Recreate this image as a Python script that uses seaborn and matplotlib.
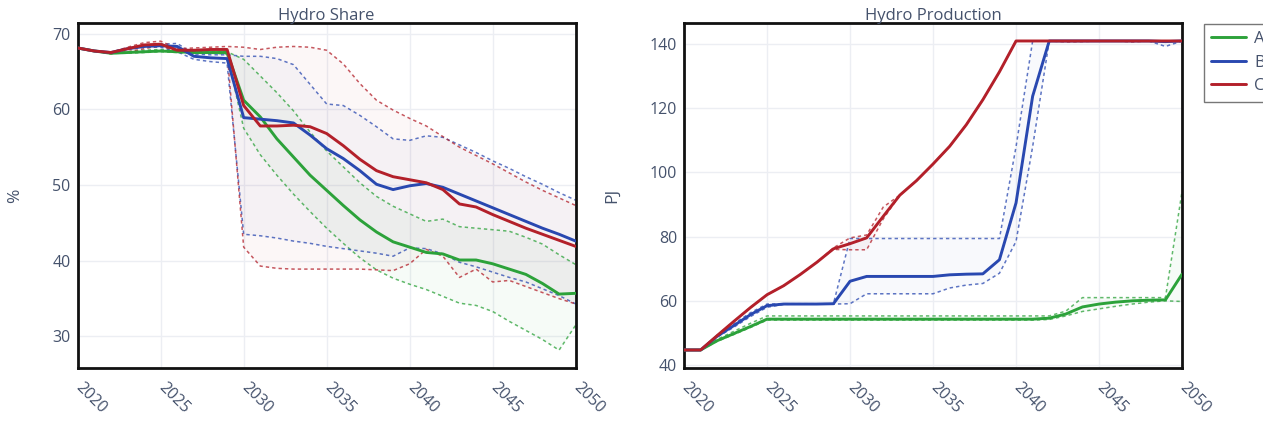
import numpy as np
import pandas as pd
import matplotlib
matplotlib.use("Agg")
import matplotlib.pyplot as plt
import seaborn as sns

years = list(range(2020, 2051))
scenarios = ["A", "B", "C"]
colors = {"A": "#2ca23a", "B": "#2948b0", "C": "#b3202a"}

# ---- Hydro Share (%) ----
share_A = [68.1, 67.7, 67.4, 67.5, 67.6, 67.7, 67.6, 67.5, 67.5, 67.5, 61.2, 59.0, 56.1, 53.7, 51.3, 49.3,
           47.3, 45.4, 43.8, 42.5, 41.8, 41.1, 40.9, 40.1, 40.1, 39.6, 38.9, 38.2, 37.0, 35.6, 35.7]
share_A_hi = [68.1, 67.7, 67.4, 67.6, 67.8, 67.9, 67.7, 67.6, 67.6, 67.6, 66.6, 64.4, 62.2, 59.8, 57.0, 54.5,
              52.4, 50.3, 48.5, 47.2, 46.2, 45.2, 45.5, 44.5, 44.3, 44.1, 43.9, 43.1, 42.2, 40.8, 39.5]
share_A_lo = [68.1, 67.7, 67.4, 67.4, 67.5, 67.6, 67.5, 67.4, 67.4, 67.3, 57.5, 54.0, 51.3, 48.8, 46.5, 44.3,
              42.3, 40.4, 38.8, 37.7, 36.9, 36.2, 35.3, 34.4, 34.1, 33.3, 32.0, 30.8, 29.6, 28.2, 31.5]
share_B = [68.1, 67.7, 67.5, 68.0, 68.3, 68.4, 68.3, 67.0, 66.8, 66.7, 58.9, 58.7, 58.5, 58.2, 56.6, 54.8,
           53.5, 51.9, 50.1, 49.4, 49.9, 50.2, 49.7, 48.8, 47.9, 47.0, 46.1, 45.2, 44.3, 43.5, 42.6]
share_B_hi = [68.1, 67.7, 67.5, 68.1, 68.4, 68.6, 68.7, 67.3, 67.2, 67.2, 67.0, 67.0, 66.7, 65.9, 63.3, 60.7,
              60.5, 59.2, 57.7, 56.1, 55.9, 56.5, 56.3, 55.3, 54.3, 53.2, 52.2, 51.1, 50.1, 49.0, 48.0]
share_B_lo = [68.1, 67.7, 67.5, 67.9, 68.2, 68.2, 67.6, 66.6, 66.3, 66.1, 43.5, 43.3, 43.0, 42.6, 42.3, 41.9,
              41.6, 41.3, 41.0, 40.6, 41.7, 41.6, 40.9, 39.8, 39.2, 38.5, 37.8, 37.2, 36.3, 35.4, 34.3]
share_C = [68.1, 67.7, 67.5, 68.0, 68.5, 68.6, 67.8, 67.8, 67.9, 67.9, 60.5, 57.8, 57.8, 57.9, 57.7, 56.8,
           55.2, 53.4, 51.9, 51.1, 50.7, 50.3, 49.4, 47.5, 47.1, 46.1, 45.2, 44.3, 43.5, 42.7, 41.9]
share_C_hi = [68.1, 67.7, 67.5, 68.2, 68.8, 69.0, 68.0, 68.1, 68.2, 68.3, 68.2, 67.9, 68.2, 68.3, 68.2, 67.8,
              66.0, 63.4, 61.2, 59.9, 58.8, 57.8, 56.4, 55.0, 53.9, 52.8, 51.6, 50.4, 49.3, 48.3, 47.3]
share_C_lo = [68.1, 67.7, 67.3, 67.6, 68.0, 68.4, 67.6, 67.5, 67.5, 67.6, 41.8, 39.3, 39.0, 38.9, 38.9, 38.9,
              38.9, 38.9, 38.8, 38.7, 39.6, 41.5, 40.6, 37.8, 38.9, 37.2, 37.4, 36.6, 35.8, 35.0, 34.3]

# ---- Hydro Production (PJ) ----
prod_A = [44.7, 44.7, 47.6, 49.8, 52.0, 54.3] + [54.3] * 16 + [54.6, 55.9, 58.1, 59.0, 59.6, 60.0, 60.2, 60.3, 68.3]
prod_A_hi = [44.7, 44.7, 48.0, 50.5, 53.0, 55.3] + [55.3] * 16 + [55.3, 56.8, 61.0, 61.0, 61.0, 61.0, 61.0, 61.0, 94.0]
prod_A_lo = [44.7, 44.7, 47.4, 49.5, 51.7, 54.0] + [54.0] * 16 + [54.2, 55.3, 56.7, 57.5, 58.3, 59.0, 59.6, 60.0, 59.8]
prod_B = [44.7, 44.7, 49.0, 52.3, 55.7, 58.5, 59.0, 59.0, 59.0, 59.1, 66.1, 67.6, 67.6, 67.6, 67.6, 67.6,
          68.1, 68.3, 68.4, 72.8, 90.5, 123.7, 140.9, 140.9, 140.9, 140.9, 140.9, 140.9, 140.9, 140.7, 140.9]
prod_B_hi = [44.7, 44.7, 49.3, 52.8, 56.3, 59.0, 59.1, 59.1, 59.1, 59.1] + [79.4] * 10 + \
            [108.0, 140.9, 140.9, 140.9, 140.9, 140.9, 140.9, 140.9, 140.9, 140.9, 140.9]
prod_B_lo = [44.7, 44.7, 48.7, 51.8, 55.1, 58.0, 58.9, 59.0, 59.0, 59.0, 59.1, 62.2, 62.2, 62.2, 62.2, 62.2,
             64.0, 64.9, 65.4, 68.6, 78.5, 108.0, 140.9, 140.9, 140.9, 140.9, 140.9, 140.9, 140.9, 139.2, 140.9]
prod_C = [44.7, 44.7, 49.2, 53.6, 57.9, 61.9, 64.7, 68.2, 72.0, 76.2, 77.8, 79.6, 86.3, 92.9, 97.4, 102.6,
          108.1, 114.8, 122.6, 131.3, 140.9] + [140.9] * 10
prod_C_hi = [44.7, 44.7, 49.2, 53.6, 57.9, 61.9, 64.7, 68.2, 72.0, 76.5, 79.6, 80.5, 89.2, 92.9, 97.4, 102.6,
             108.1, 114.8, 122.6, 131.3, 140.9] + [140.9] * 10
prod_C_lo = [44.7, 44.7, 49.2, 53.6, 57.9, 61.9, 64.7, 68.2, 72.0, 76.0, 75.9, 75.9, 85.5, 92.9, 97.4, 102.6,
             108.1, 114.8, 122.6, 131.3, 140.9, 140.9, 140.9, 140.6, 140.7, 140.9, 140.9, 140.6, 140.9, 140.9, 140.9]

share = {"A": (share_A, share_A_lo, share_A_hi),
         "B": (share_B, share_B_lo, share_B_hi),
         "C": (share_C, share_C_lo, share_C_hi)}
prod = {"A": (prod_A, prod_A_lo, prod_A_hi),
        "B": (prod_B, prod_B_lo, prod_B_hi),
        "C": (prod_C, prod_C_lo, prod_C_hi)}

def long_df(d):
    rows = []
    for s in scenarios:
        for y, v in zip(years, d[s][0]):
            rows.append({"year": y, "value": v, "scenario": s})
    return pd.DataFrame(rows)

sns.set_style("white")
plt.rcParams["font.family"] = ["Open Sans", "DejaVu Sans"]
txt = "#45526c"
fill_alpha = {"A": 0.04, "B": 0.03, "C": 0.035}

fig = plt.figure(figsize=(12.63, 4.21), dpi=100)
ax1 = fig.add_axes([0.0615, 0.1252, 0.3943, 0.8202])
ax2 = fig.add_axes([0.5416, 0.1252, 0.3943, 0.8202])

def draw(ax, d, title, ylabel, ylim, yticks, legend):
    for s in scenarios:
        med, lo, hi = d[s]
        ax.fill_between(years, lo, hi, color=colors[s], alpha=fill_alpha[s], lw=0, zorder=1)
        for b in (lo, hi):
            ax.plot(years, b, color=colors[s], alpha=0.75, lw=1.1, ls=(0, (2.2, 2.0)), zorder=2)
    sns.lineplot(data=long_df(d), x="year", y="value", hue="scenario", hue_order=scenarios,
                 palette=colors, lw=2.1, ax=ax, legend=legend, zorder=3)
    ax.set_xlim(2020, 2050)
    ax.set_ylim(*ylim)
    ax.set_yticks(yticks)
    ax.set_xticks(range(2020, 2051, 5))
    ax.set_xticklabels([str(y) for y in range(2020, 2051, 5)], rotation=-45, ha="left",
                       va="center", rotation_mode="anchor")
    ax.tick_params(axis="both", length=0, labelsize=11.5, labelcolor=txt)
    ax.tick_params(axis="x", pad=12)
    ax.tick_params(axis="y", pad=5)
    ax.grid(True, color="#eceef3", lw=1)
    ax.set_axisbelow(True)
    for sp in ax.spines.values():
        sp.set_visible(True)
        sp.set_color("#111111")
        sp.set_linewidth(2)
    ax.set_title(title, fontsize=12, color=txt, pad=2)
    ax.set_xlabel("")
    ax.set_ylabel(ylabel, fontsize=12.5, color=txt)

draw(ax1, share, "Hydro Share", "%", (25.8, 71.4), [30, 40, 50, 60, 70], False)
draw(ax2, prod, "Hydro Production", "PJ", (39.0, 146.5), [40, 60, 80, 100, 120, 140], True)
ax1.yaxis.set_label_coords(-0.11, 0.5)
ax2.yaxis.set_label_coords(-0.128, 0.5)

sns.move_legend(ax2, "upper left", bbox_to_anchor=(1.044, 0.998), title=None, frameon=True,
                fontsize=12, handlelength=2.1, handletextpad=0.45, labelspacing=0.45,
                borderpad=0.45, borderaxespad=0)
leg = ax2.get_legend()
leg.get_frame().set_edgecolor("#555555")
leg.get_frame().set_linewidth(1.0)
leg.get_frame().set_boxstyle("square", pad=0)
for t in leg.get_texts():
    t.set_color(txt)

fig.savefig("out.png", dpi=100)
